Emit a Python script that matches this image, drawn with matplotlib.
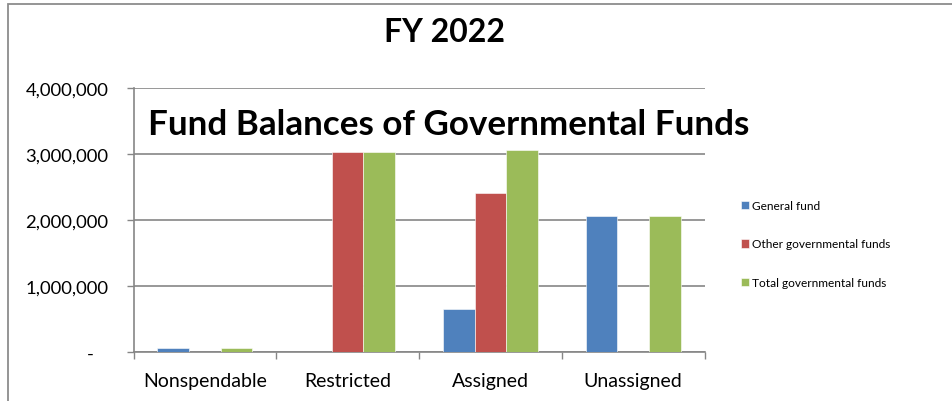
import matplotlib
matplotlib.use("Agg")
import matplotlib.pyplot as plt
from matplotlib.patches import Rectangle
from matplotlib.ticker import FuncFormatter, FixedLocator
import numpy as np

plt.rcParams['font.family'] = ['Lato', 'DejaVu Sans']

# data
categories = ['Nonspendable', 'Restricted', 'Assigned', 'Unassigned']
general_fund = [65000, 0, 650000, 2065000]
other_funds = [0, 3040000, 2410000, 0]
total_funds = [65000, 3040000, 3060000, 2065000]
series_names = ['General fund', 'Other governmental funds', 'Total governmental funds']
y_ticks = [0, 1000000, 2000000, 3000000, 4000000]

colors = ['#4F81BD', '#C0504D', '#9BBB59']
grey = '#868686'

fig = plt.figure(figsize=(9.52, 4.02), dpi=100)
ax = fig.add_axes([133.5 / 952, 1 - 353.3 / 402, 571 / 952, 264 / 402])

x = np.arange(len(categories))
w = 1 / 4.5
for i, vals in enumerate([general_fund, other_funds, total_funds]):
    ax.bar(x + (i - 1) * w, vals, width=w, color=colors[i], label=series_names[i],
           edgecolor='white', linewidth=0.4, zorder=3)

ax.set_xlim(-0.5, 3.5)
ax.set_ylim(0, 4000000)
ax.set_yticks(y_ticks)
ax.yaxis.set_major_formatter(FuncFormatter(lambda v, p: '-   ' if v == 0 else f'{v:,.0f}'))
ax.grid(axis='y', color=grey, linewidth=1.2, zorder=0)

# category boundaries as major ticks, names as minor ticks
ax.xaxis.set_major_locator(FixedLocator([-0.5, 0.5, 1.5, 2.5, 3.5]))
ax.xaxis.set_major_formatter(FuncFormatter(lambda v, p: ''))
ax.xaxis.set_minor_locator(FixedLocator(x))
ax.set_xticklabels(categories, minor=True)
ax.tick_params(axis='x', which='major', length=5, color=grey, width=1)
ax.tick_params(axis='x', which='minor', length=0, pad=14, labelsize=14)
ax.tick_params(axis='y', length=5, color=grey, width=1, pad=13, labelsize=13.3)

for s in ['top', 'right']:
    ax.spines[s].set_visible(False)
for s in ['left', 'bottom']:
    ax.spines[s].set_color(grey)
    ax.spines[s].set_linewidth(1.2)

fig.text(444 / 952, 1 - 33 / 402, 'FY 2022', ha='center', va='center',
         fontsize=23, fontweight='bold')
fig.text(148 / 952, 1 - 135 / 402, 'Fund Balances of Governmental Funds', ha='left',
         va='baseline', fontsize=25.2, fontweight='bold')

fig.legend(loc='center left', bbox_to_anchor=(741 / 952, 1 - 245 / 402), frameon=False,
           fontsize=8.6, handlelength=0.7, handleheight=0.7, handletextpad=0.25,
           labelspacing=2.3, borderpad=0, borderaxespad=0)

fig.patches.append(Rectangle((8 / 952, -0.1), 1.2, 1.1 - 4.5 / 402, transform=fig.transFigure,
                             fill=False, edgecolor='#8c8c8c', linewidth=1.3))

fig.savefig('out.png', dpi=100)
